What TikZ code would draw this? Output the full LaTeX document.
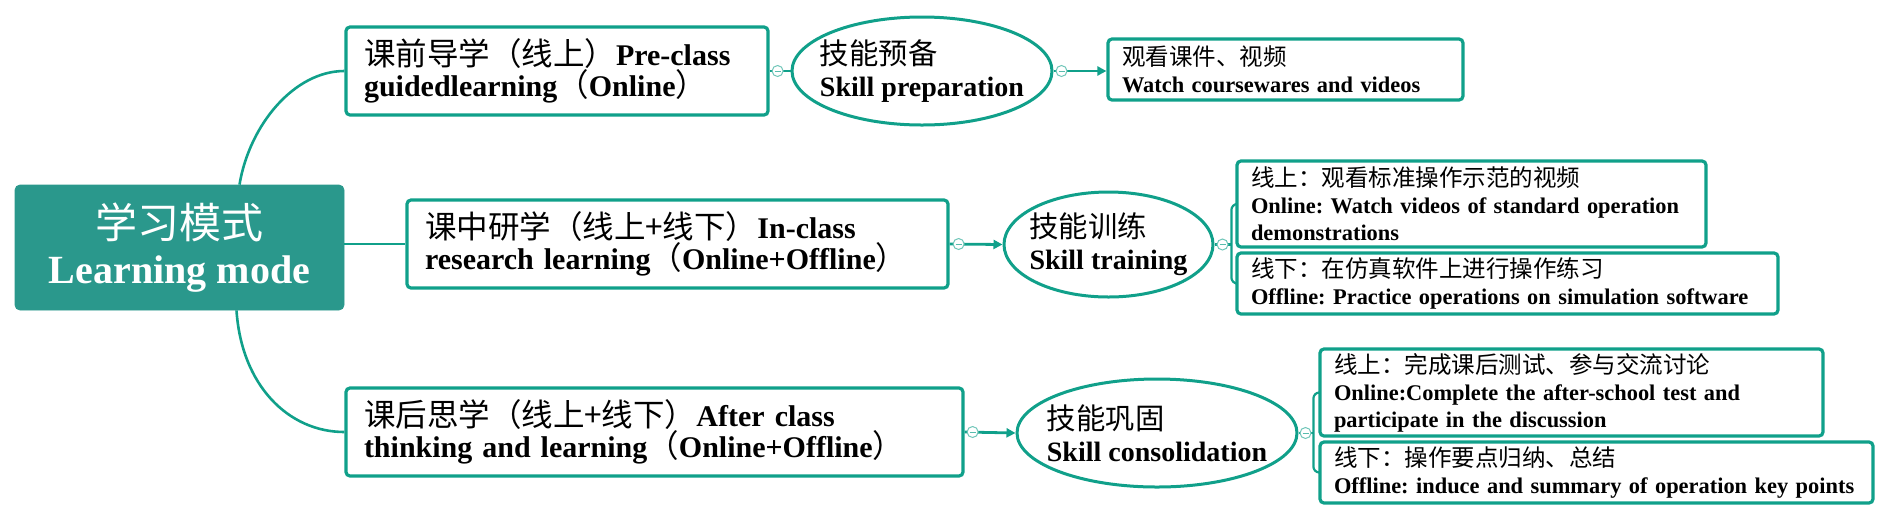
\documentclass[tikz,border=0pt]{standalone}
\usepackage{fontspec}
\setmainfont{Liberation Serif}
\newfontfamily\cjk[Scale=1.05]{Noto Sans CJK SC}
\newcommand\zhs[1]{{\cjk\mdseries #1}}
\usetikzlibrary{shapes.geometric,arrows.meta,calc}
\definecolor{tealline}{RGB}{16,160,138}
\definecolor{rootfill}{RGB}{42,152,140}
\frenchspacing
\tikzset{
 rootbox/.style={rectangle, rounded corners=2.5pt, fill=rootfill, draw=rootfill, text=white, align=center, font=\fontsize{20}{22.5}\selectfont\bfseries, inner sep=0pt},
 bigbox/.style={rectangle, rounded corners=2pt, draw=tealline, line width=1.6pt, fill=white, align=left, font=\fontsize{15}{15.5}\selectfont\bfseries, inner xsep=9pt, inner ysep=0pt, minimum height=44pt},
 smallbox/.style={rectangle, rounded corners=2pt, draw=tealline, line width=1.6pt, fill=white, align=left, font=\fontsize{11.2}{13.5}\selectfont\bfseries, inner xsep=7pt, inner ysep=0pt},
 skillell/.style={ellipse, draw=tealline, line width=1.5pt, fill=white, inner sep=0pt},
 skilltext/.style={align=left, font=\fontsize{14}{16}\selectfont\bfseries, inner sep=0pt},
 link/.style={draw=tealline, line width=1.4pt},
 arrowlink/.style={link, -{Triangle[length=4.5pt,width=4.5pt]}},
 branch/.style={draw=tealline, line width=1.3pt},
 bracket/.style={draw=tealline, line width=1.1pt, rounded corners=3pt},
 collapse/.style={circle, draw=tealline!60, fill=white, line width=0.5pt, minimum size=5.5pt, inner sep=0pt,
   path picture={\draw[tealline!70, line width=0.5pt] ([xshift=-1.5pt]path picture bounding box.center) -- ([xshift=1.5pt]path picture bounding box.center);}},
}
\begin{document}
\begin{tikzpicture}[x=0.5pt,y=-0.5pt]
\useasboundingbox (0,0) rectangle (1890,521);
% root
\node[rootbox, minimum width=164.5pt, minimum height=62.5pt] (root) at (179.5,247.5) {\zhs{学习模式}\\Learning mode};
% level 1 boxes
\node[bigbox, text width=193pt] (b1) at (557,71) {\zhs{课前导学（线上）}Pre-class\\guidedlearning\zhs{（}Online\zhs{）}};
\node[bigbox, text width=252.5pt] (b2) at (677.5,244) {\zhs{课中研学（线上+线下）}In-class\\research learning\zhs{（}Online+Offline\zhs{）}};
\node[bigbox, text width=290.5pt] (b3) at (654.5,432) {\zhs{课后思学（线上+线下）}After class\\thinking and learning\zhs{（}Online+Offline\zhs{）}};
% ellipses
\node[skillell, minimum width=130pt, minimum height=54pt] (e1) at (922,71) {};
\node[skilltext] (t1) at (e1) {\zhs{技能预备}\\Skill preparation};
\node[skillell, minimum width=104.5pt, minimum height=52.5pt] (e2) at (1108.5,244.5) {};
\node[skilltext] (t2) at (e2) {\zhs{技能训练}\\Skill training};
\node[skillell, minimum width=140pt, minimum height=54pt] (e3) at (1157,433) {};
\node[skilltext] (t3) at (e3) {\zhs{技能巩固}\\Skill consolidation};
% leaf boxes
\node[smallbox, text width=163.5pt, minimum height=30.5pt] (s1) at (1285.5,69.5) {\zhs{观看课件、视频}\\\mbox{Watch coursewares and videos}};
\node[smallbox, text width=220.5pt, minimum height=43pt] (s2a) at (1471.5,204) {\zhs{线上：观看标准操作示范的视频}\\\mbox{Online: Watch videos of standard operation}\\demonstrations};
\node[smallbox, text width=256.5pt, minimum height=30.5pt] (s2b) at (1507.5,283.5) {\zhs{线下：在仿真软件上进行操作练习}\\\mbox{Offline: Practice operations on simulation software}};
\node[smallbox, text width=237.5pt, minimum height=43.5pt] (s3a) at (1571.5,392.5) {\zhs{线上：完成课后测试、参与交流讨论}\\\mbox{Online:Complete the after-school test and}\\participate in the discussion};
\node[smallbox, text width=262.5pt, minimum height=30.5pt] (s3b) at (1596.5,472.5) {\zhs{线下：操作要点归纳、总结}\\\mbox{Offline: induce and summary of operation key points}};
% root branches
\draw[branch] ($(root.north)+(60,0)$) .. controls +(10,-60) and +(-50,0) .. (b1.west);
\draw[branch] ($(root.south)+(57,0)$) .. controls +(5,75) and +(-56,0) .. (b3.west);
\draw[branch] (root.east |- b2.west) -- (b2.west);
% level connectors
\draw[link] (b1.east) -- (e1.west);
\draw[arrowlink] (b2.east) -- (e2.west);
\draw[arrowlink] (b3.east) -- (e3.west);
\draw[arrowlink] (e1.east) -- (e1.east -| s1.west);
\coordinate (k2) at ($(s2a.west)+(-4,0)$);
\draw[link] (e2.east) -- (e2.east -| k2);
\draw[bracket] (s2a.west) -- (k2) |- (s2b.west);
\coordinate (k3) at ($(s3a.west)+(-5,0)$);
\draw[link] (e3.east) -- (e3.east -| k3);
\draw[bracket] (s3a.west) -- (k3) |- (s3b.west);
% collapse markers
\node[collapse] (c1) at ($(b1.east)+(8,0)$) {};
\node[collapse] (c2) at ($(b2.east)+(9,0)$) {};
\node[collapse] (c3) at ($(b3.east)+(8,0)$) {};
\node[collapse] (c4) at ($(e1.east)+(8,0)$) {};
\node[collapse] (c5) at ($(e2.east)+(8,0)$) {};
\node[collapse] (c6) at ($(e3.east)+(7,0)$) {};
\end{tikzpicture}
\end{document}
